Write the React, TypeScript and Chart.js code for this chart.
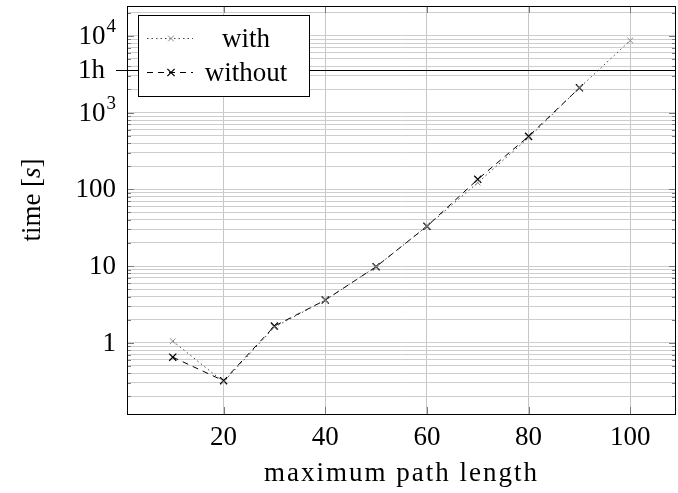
import { useEffect, useRef } from "react";
import { Chart, registerables } from "chart.js";

Chart.register(...registerables);

// Runtime (seconds) against the maximum path length, with and without the optimisation.
const pathLengths = [10, 20, 30, 40, 50, 60, 70, 80, 90, 100];
const timesWith = [1.05, 0.31, 1.6, 3.6, 9.8, 33, 122, 470, 2100, 8700];
const timesWithout = [0.65, 0.32, 1.65, 3.6, 9.8, 33, 135, 490, 2100];

const seriesNames = ["with", "without"];

const xTickValues = [20, 40, 60, 80, 100];
const xTickLabels = ["20", "40", "60", "80", "100"];
const yMajorValues = [1, 10, 100, 1000, 10000];
// base text and superscript for each major label
const yMajorBases = ["1", "10", "100", "10", "10"];
const yMajorExponents = ["", "", "", "3", "4"];
const hourValue = 3600;
const hourLabel = "1h";

const xTitle = "maximum path length";
const yTitleParts = ["time [", "s", "]"];

const X_MIN = 1;
const X_MAX = 109;
const Y_MIN = 0.118;
const Y_MAX = 24500;

const FONT = "'Liberation Serif', 'Times New Roman', serif";

// minor log ticks: 2..9 within every decade on the axis
const yMinorValues: number[] = [];
for (let e = -1; e <= 4; e++) {
  for (let m = 2; m <= 9; m++) {
    const v = m * Math.pow(10, e);
    if (v > Y_MIN && v < Y_MAX) yMinorValues.push(v);
  }
}

function drawCross(ctx: CanvasRenderingContext2D, x: number, y: number, r: number) {
  ctx.beginPath();
  ctx.moveTo(x - r, y - r);
  ctx.lineTo(x + r, y + r);
  ctx.moveTo(x - r, y + r);
  ctx.lineTo(x + r, y - r);
  ctx.stroke();
}

const axisDecor = {
  id: "axisDecor",
  beforeDatasetsDraw(chart: any) {
    const { ctx, chartArea, scales } = chart;
    const y = Math.round(scales.y.getPixelForValue(hourValue)) + 0.5;
    ctx.save();
    ctx.strokeStyle = "#000";
    ctx.lineWidth = 1;
    ctx.beginPath();
    ctx.moveTo(chartArea.left - 11, y);
    ctx.lineTo(chartArea.right, y);
    ctx.stroke();
    ctx.restore();
  },
  afterDraw(chart: any) {
    const { ctx, chartArea, scales } = chart;
    const { left, right, top, bottom } = chartArea;
    const xs = scales.x;
    const ys = scales.y;
    ctx.save();

    // inner tick marks
    ctx.strokeStyle = "#7a7a7a";
    ctx.lineWidth = 1;
    ctx.beginPath();
    for (const v of xTickValues) {
      const px = Math.round(xs.getPixelForValue(v)) + 0.5;
      ctx.moveTo(px, bottom);
      ctx.lineTo(px, bottom - 7);
      ctx.moveTo(px, top);
      ctx.lineTo(px, top + 7);
    }
    for (const v of yMajorValues) {
      const py = Math.round(ys.getPixelForValue(v)) + 0.5;
      ctx.moveTo(left, py);
      ctx.lineTo(left + 7, py);
      ctx.moveTo(right, py);
      ctx.lineTo(right - 7, py);
    }
    for (const v of yMinorValues) {
      const py = Math.round(ys.getPixelForValue(v)) + 0.5;
      ctx.moveTo(left, py);
      ctx.lineTo(left + 4, py);
      ctx.moveTo(right, py);
      ctx.lineTo(right - 4, py);
    }
    ctx.stroke();

    // axis frame
    ctx.strokeStyle = "#000";
    ctx.strokeRect(Math.round(left) + 0.5, Math.round(top) + 0.5, Math.round(right - left) - 1, Math.round(bottom - top));

    ctx.fillStyle = "#000";
    // x tick labels
    ctx.font = `27px ${FONT}`;
    ctx.textAlign = "center";
    ctx.textBaseline = "middle";
    xTickValues.forEach((v, i) => {
      ctx.fillText(xTickLabels[i], xs.getPixelForValue(v), bottom + 24);
    });

    // y tick labels
    const labelRight = left - 11;
    yMajorValues.forEach((v, i) => {
      const py = ys.getPixelForValue(v);
      ctx.textAlign = "left";
      ctx.textBaseline = "middle";
      ctx.font = `27px ${FONT}`;
      const bw = ctx.measureText(yMajorBases[i]).width;
      ctx.font = `19px ${FONT}`;
      const ew = yMajorExponents[i] ? ctx.measureText(yMajorExponents[i]).width + 1 : 0;
      const x0 = labelRight - bw - ew;
      ctx.font = `27px ${FONT}`;
      ctx.fillText(yMajorBases[i], x0, py + 1);
      if (yMajorExponents[i]) {
        ctx.font = `19px ${FONT}`;
        ctx.fillText(yMajorExponents[i], x0 + bw + 1, py - 9);
      }
    });
    ctx.font = `27px ${FONT}`;
    ctx.textAlign = "right";
    ctx.fillText(hourLabel, left - 22, ys.getPixelForValue(hourValue) + 1);

    // axis titles
    ctx.textAlign = "center";
    ctx.textBaseline = "alphabetic";
    (ctx as any).letterSpacing = "2px";
    ctx.fillText(xTitle, (left + right) / 2, bottom + 67);
    (ctx as any).letterSpacing = "0px";

    ctx.save();
    ctx.translate(33, (top + bottom) / 2 - 10);
    ctx.rotate(-Math.PI / 2);
    const fonts = [`27px ${FONT}`, `italic 27px ${FONT}`, `27px ${FONT}`];
    const widths = yTitleParts.map((t, i) => {
      ctx.font = fonts[i];
      return ctx.measureText(t).width;
    });
    let tx = -widths.reduce((a, b) => a + b, 0) / 2;
    ctx.textAlign = "left";
    ctx.textBaseline = "middle";
    yTitleParts.forEach((t, i) => {
      ctx.font = fonts[i];
      ctx.fillText(t, tx, 0);
      tx += widths[i];
    });
    ctx.restore();

    // legend box
    const lx = 138.5, ly = 15.5, lw = 171, lh = 81;
    ctx.fillStyle = "#fff";
    ctx.fillRect(lx, ly, lw, lh);
    ctx.strokeStyle = "#000";
    ctx.lineWidth = 1;
    ctx.strokeRect(lx, ly, lw, lh);

    const rows = [38, 72];
    chart.data.datasets.forEach((ds: any, i: number) => {
      const ry = rows[i] + 0.5;
      ctx.strokeStyle = ds.borderColor;
      ctx.lineWidth = ds.borderWidth;
      ctx.setLineDash(ds.borderDash);
      ctx.beginPath();
      ctx.moveTo(147, ry);
      ctx.lineTo(193, ry);
      ctx.stroke();
      ctx.setLineDash([]);
      ctx.strokeStyle = ds.pointBorderColor;
      ctx.lineWidth = ds.pointBorderWidth;
      drawCross(ctx, 171, ry, ds.pointRadius * 0.72);
      ctx.fillStyle = "#000";
      ctx.font = `27px ${FONT}`;
      ctx.textAlign = "center";
      ctx.textBaseline = "middle";
      ctx.fillText(ds.label, 246, rows[i] + 2);
    });

    ctx.restore();
  },
};

export default function App() {
  const canvasRef = useRef<HTMLCanvasElement | null>(null);

  useEffect(() => {
    const canvas = canvasRef.current;
    if (!canvas) return;
    const chart = new Chart(canvas, {
      type: "line",
      data: {
        datasets: [
          {
            label: seriesNames[0],
            data: pathLengths.map((x, i) => ({ x, y: timesWith[i] })),
            borderColor: "#444",
            borderWidth: 1,
            borderDash: [1.5, 3],
            pointStyle: "crossRot",
            pointRadius: 4,
            pointBorderColor: "#8a8a8a",
            pointBorderWidth: 1,
            pointHoverRadius: 4,
            fill: false,
            tension: 0,
          },
          {
            label: seriesNames[1],
            data: pathLengths.slice(0, timesWithout.length).map((x, i) => ({ x, y: timesWithout[i] })),
            borderColor: "#000",
            borderWidth: 1,
            borderDash: [6, 5],
            pointStyle: "crossRot",
            pointRadius: 5,
            pointBorderColor: "#000",
            pointBorderWidth: 1.3,
            pointHoverRadius: 5,
            fill: false,
            tension: 0,
          },
        ],
      },
      options: {
        animation: false,
        responsive: false,
        events: [],
        layout: { autoPadding: false, padding: { left: 127, right: 2, top: 6, bottom: 79 } },
        plugins: {
          legend: { display: false },
          tooltip: { enabled: false },
        },
        scales: {
          x: {
            type: "linear",
            min: X_MIN,
            max: X_MAX,
            afterBuildTicks: (axis: any) => {
              axis.ticks = xTickValues.map((value) => ({ value }));
            },
            afterFit: (axis: any) => {
              axis.height = 0;
            },
            ticks: { display: false },
            border: { display: false },
            grid: { color: "#c6c6c6", lineWidth: 1, drawTicks: false },
          },
          y: {
            type: "logarithmic",
            min: Y_MIN,
            max: Y_MAX,
            afterBuildTicks: (axis: any) => {
              axis.ticks = [...yMinorValues, ...yMajorValues]
                .sort((a, b) => a - b)
                .map((value) => ({ value }));
            },
            afterFit: (axis: any) => {
              axis.width = 0;
            },
            ticks: { display: false },
            border: { display: false },
            grid: { color: "#cdcdcd", lineWidth: 1, drawTicks: false },
          },
        },
      },
      plugins: [axisDecor],
    });
    return () => chart.destroy();
  }, []);

  return (
    <div style={{ position: "absolute", left: 0, top: 0, width: 678, height: 493, background: "#fff" }}>
      <canvas ref={canvasRef} width={678} height={493} />
    </div>
  );
}
